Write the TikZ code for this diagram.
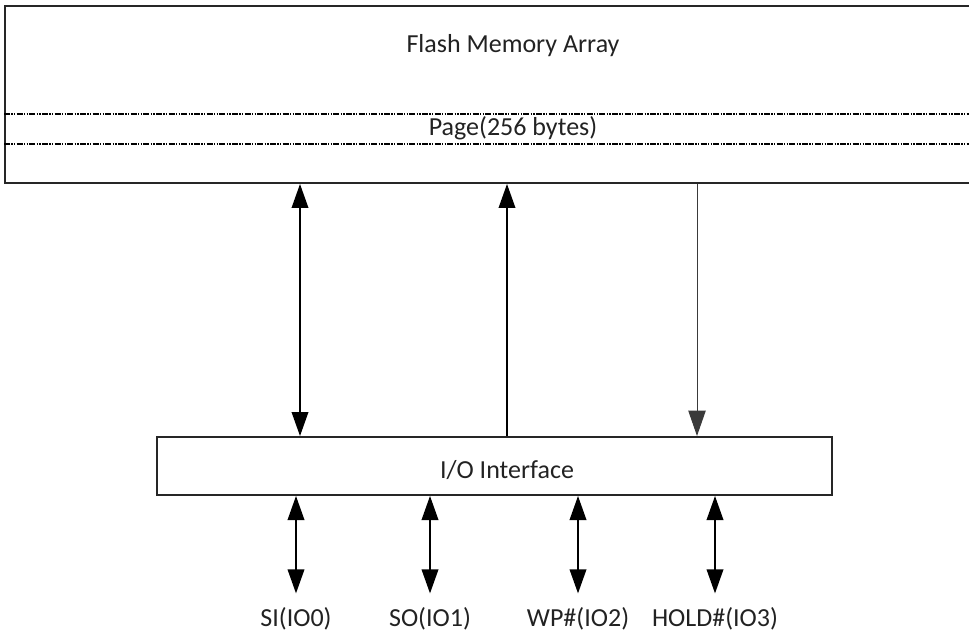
\documentclass[tikz,border=0pt]{standalone}
\usepackage{fontspec}
\setmainfont{Carlito}
\usetikzlibrary{arrows.meta}
\definecolor{EdgeDark}{HTML}{262626}
\definecolor{WireGray}{HTML}{3A3A3A}
\definecolor{InkText}{HTML}{222222}

\tikzset{
  block/.style={draw=EdgeDark, line width=1.5pt, rectangle, inner sep=0pt},
  txt/.style={font=\fontsize{19.5}{23}\selectfont, text=InkText, inner sep=0pt, anchor=base},
  pin/.style={font=\fontsize{19.5}{23}\selectfont, text=InkText, inner xsep=0pt, inner ysep=10pt, anchor=base},
  pagerule/.style={line width=0.8pt, dash pattern=on 4.5pt off 1pt on 1pt off 1pt on 1pt off 1pt},
  bus/.style={line width=1.1pt, {Triangle[length=18pt, width=12.5pt]}-{Triangle[length=18pt, width=12.5pt]}},
  upwire/.style={line width=1.1pt, -{Triangle[length=18pt, width=12.5pt]}},
  downwire/.style={line width=0.75pt, draw=WireGray, -{Triangle[length=19pt, width=13pt]}, WireGray}
}

\begin{document}
\begin{tikzpicture}[x=0.75pt, y=-0.75pt]
		\useasboundingbox (0,0) rectangle (969,634);
		\clip (0,0) rectangle (969,634);
		% memory array with one page strip
		\node[block, minimum width=762pt, minimum height=132.75pt] (flash) at (513,94.5) {};
		\node[txt] (flashtext) at (513,53) {Flash Memory Array};
		\draw[pagerule] (flash.west |- 0,114) -- (flash.east |- 0,114);
		\draw[pagerule] (flash.west |- 0,144) -- (flash.east |- 0,144);
		\node[txt] (pagetext) at (513,136) {Page(256 bytes)};
		
		% interface block
		\node[block, minimum width=506.25pt, minimum height=43.5pt] (io) at (494.5,466) {};
		\node[txt] (iotext) at (507,478) {I/O Interface};
		
		\coordinate (c1) at (300,0);
		\coordinate (c2) at (507,0);
		\coordinate (c3) at (697,0);
		\draw[bus] (flash.south -| c1) -- (io.north -| c1);
		\draw[upwire] (io.north -| c2) -- (flash.south -| c2);
		\draw[downwire] (flash.south -| c3) -- (io.north -| c3);
		
		% pins
		\node[pin] (si) at (296,626) {SI(IO0)};
		\node[pin] (so) at (430,626) {SO(IO1)};
		\node[pin] (wp) at (578,626) {WP\#(IO2)};
		\node[pin] (hold) at (715,626) {HOLD\#(IO3)};
		\foreach \p in {si,so,wp,hold}
			\draw[bus] (io.south -| \p) -- (\p.north);
\end{tikzpicture}
\end{document}
